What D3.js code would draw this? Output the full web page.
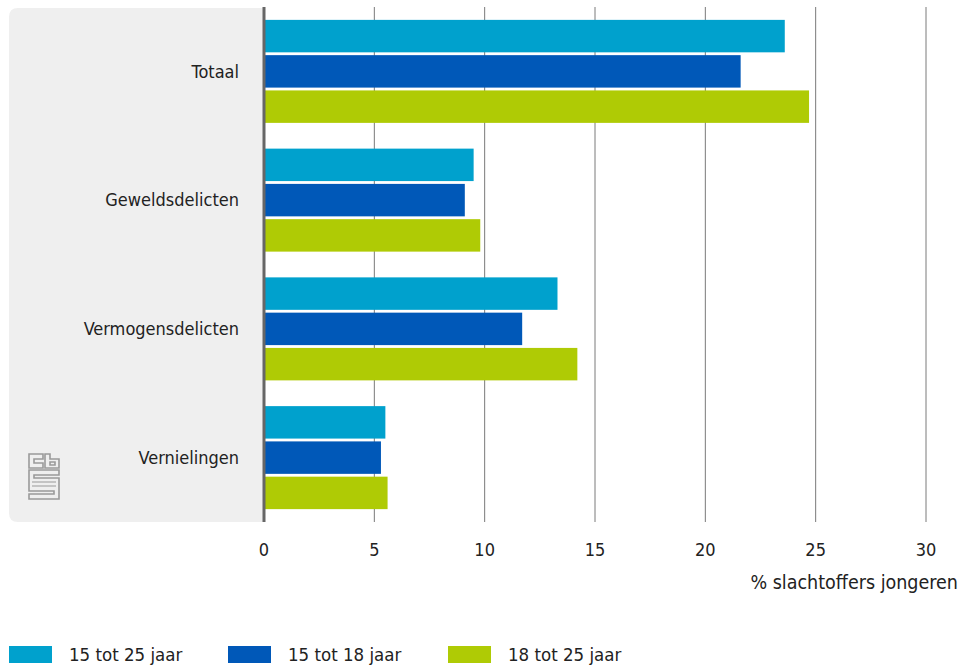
<!DOCTYPE html>
<html>
<head>
<meta charset="utf-8">
<script src="https://cdn.jsdelivr.net/npm/d3@7"></script>
<style>
  body { margin: 0; background: #fff; }
  svg text { font-family: "DejaVu Sans Condensed", "Liberation Sans Narrow", "Noto Sans", sans-serif; fill: #222; }
</style>
</head>
<body>
<div id="chart"></div>
<script>
// data
const categories = ['Totaal', 'Geweldsdelicten', 'Vermogensdelicten', 'Vernielingen'];
const seriesNames = ['15 tot 25 jaar', '15 tot 18 jaar', '18 tot 25 jaar'];
const seriesColors = ['#00a1cd', '#0058b8', '#afcb05'];
const values15to25 = [23.6, 9.5, 13.3, 5.5];
const values15to18 = [21.6, 9.1, 11.7, 5.3];
const values18to25 = [24.7, 9.8, 14.2, 5.6];
const xTicks = [0, 5, 10, 15, 20, 25, 30];
const axisTitle = '% slachtoffers jongeren';

const allValues = [values15to25, values15to18, values18to25];

const width = 966;
const height = 668;
const margin = { top: 7, left: 264, right: 40, bottom: 146 };
const plotBottom = height - margin.bottom;

const svg = d3.select('#chart')
  .append('svg')
  .attr('width', width)
  .attr('height', height);

// grey label panel, rounded on the left only
const px = 9, py = 8, pr = 9;
svg.append('path')
  .attr('d', `M${margin.left},${py} H${px + pr} Q${px},${py} ${px},${py + pr} V${plotBottom - pr} Q${px},${plotBottom} ${px + pr},${plotBottom} H${margin.left} Z`)
  .attr('fill', '#efefef');

const x = d3.scaleLinear()
  .domain([0, 30])
  .range([margin.left, width - margin.right]);

const y = d3.scaleBand()
  .domain(categories)
  .range([margin.top, plotBottom])
  .paddingInner(0.2)
  .paddingOuter(0.1);

const ySub = d3.scaleBand()
  .domain(d3.range(seriesNames.length))
  .range([0, y.bandwidth()])
  .paddingInner(0.08)
  .paddingOuter(0);

// gridlines
svg.append('g')
  .selectAll('line')
  .data(xTicks.slice(1))
  .enter()
  .append('line')
  .attr('x1', d => x(d)).attr('x2', d => x(d))
  .attr('y1', margin.top).attr('y2', plotBottom)
  .attr('stroke', '#7a7a7a')
  .attr('stroke-width', 1);

// bars
const groups = svg.append('g')
  .selectAll('g')
  .data(categories)
  .enter()
  .append('g')
  .attr('transform', d => 'translate(0,' + y(d) + ')');

groups.selectAll('rect')
  .data((d, i) => allValues.map((vals, s) => ({ s: s, v: vals[i] })))
  .enter()
  .append('rect')
  .attr('x', x(0))
  .attr('y', d => ySub(d.s))
  .attr('width', d => x(d.v) - x(0))
  .attr('height', ySub.bandwidth())
  .attr('fill', d => seriesColors[d.s]);

// category labels
svg.append('g')
  .selectAll('text')
  .data(categories)
  .enter()
  .append('text')
  .attr('x', 239)
  .attr('y', d => y(d) + y.bandwidth() / 2)
  .attr('dy', '0.35em')
  .attr('text-anchor', 'end')
  .style('font-size', '18px')
  .text(d => d);

// zero axis line
svg.append('line')
  .attr('x1', x(0)).attr('x2', x(0))
  .attr('y1', margin.top).attr('y2', plotBottom)
  .attr('stroke', '#666')
  .attr('stroke-width', 3);

// x tick labels
svg.append('g')
  .selectAll('text')
  .data(xTicks)
  .enter()
  .append('text')
  .attr('x', d => x(d))
  .attr('y', 556)
  .attr('text-anchor', 'middle')
  .style('font-size', '18px')
  .text(d => d);

svg.append('text')
  .attr('x', 958)
  .attr('y', 589)
  .attr('text-anchor', 'end')
  .style('font-size', '19.5px')
  .text(axisTitle);

// legend
const legendX = [9, 228, 448];
const legend = svg.append('g')
  .selectAll('g')
  .data(seriesNames)
  .enter()
  .append('g')
  .attr('transform', (d, i) => 'translate(' + legendX[i] + ',646)');
legend.append('rect')
  .attr('width', 43).attr('height', 17)
  .attr('fill', (d, i) => seriesColors[i]);
legend.append('text')
  .attr('x', 60).attr('y', 15)
  .style('font-size', '18.5px')
  .text(d => d);

// cbs logo (outline)
const logo = svg.append('g')
  .attr('transform', 'translate(29,454)')
  .attr('fill', 'none')
  .attr('stroke', '#9a9a9a')
  .attr('stroke-width', 1.6);
logo.append('path').attr('d', 'M0,0 H14 V5 H5 V9 H14 V14 H0 Z');
logo.append('path').attr('d', 'M16,0 H21 V5 H30 V14 H16 Z M21,8 H26 V11 H21 Z');
logo.append('path').attr('d', 'M0,16 H30 V21 H5 V24 H30 V45 H0 V40 H25 V37 H0 Z');
logo.append('path').attr('d', 'M3,28 H27 M3,32 H27').attr('stroke-width', 1.2);
</script>
</body>
</html>
